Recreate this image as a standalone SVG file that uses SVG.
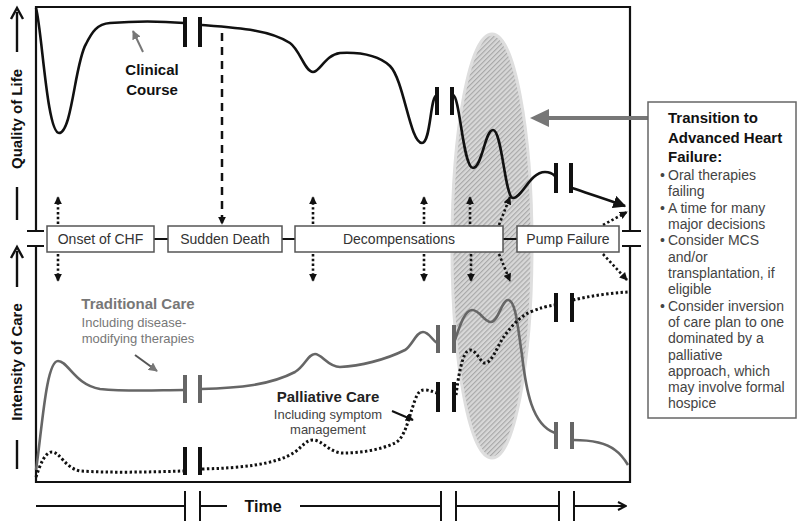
<svg xmlns="http://www.w3.org/2000/svg" width="800" height="527" viewBox="0 0 800 527">
<defs>
<style>
text{font-family:"Liberation Sans",Arial,sans-serif}
.frame{stroke:#111;stroke-width:2.2;fill:none}
.brk{stroke:#111;stroke-width:4;fill:none}
.gbrk{stroke:#666;stroke-width:4;fill:none}
.clin{stroke:#111;stroke-width:2.6;fill:none}
.trad{stroke:#666;stroke-width:2.6;fill:none}
.pall{stroke:#111;stroke-width:3;fill:none;stroke-dasharray:2.4 2.4}
.dot{stroke:#111;stroke-width:2.6;fill:none;stroke-dasharray:2.4 2.4;marker-end:url(#tri)}
.box{fill:#fff;stroke:#555;stroke-width:1.5}
.bt{font-size:14px;fill:#333;text-anchor:middle}
.ax{font-size:15px;font-weight:bold;fill:#111;text-anchor:middle}
.bul{font-size:14px;fill:#444}
.time{stroke:#111;stroke-width:2;fill:none}
</style>
<marker id="tri" viewBox="0 0 10 10" refX="9" refY="5" markerWidth="8" markerHeight="8" markerUnits="userSpaceOnUse" orient="auto"><path d="M0,0 L10,5 L0,10 z" fill="#111"/></marker>
<marker id="triBig" viewBox="0 0 10 10" refX="9" refY="5" markerWidth="13" markerHeight="13" markerUnits="userSpaceOnUse" orient="auto"><path d="M0,0 L10,5 L0,10 z" fill="#111"/></marker>
<marker id="triGray" viewBox="0 0 10 10" refX="9" refY="5" markerWidth="9" markerHeight="9" markerUnits="userSpaceOnUse" orient="auto"><path d="M0,0 L10,5 L0,10 z" fill="#777"/></marker>
<marker id="chev" viewBox="0 0 10 10" refX="9" refY="5" markerWidth="10" markerHeight="10" markerUnits="userSpaceOnUse" orient="auto"><path d="M1,1 L9,5 L1,9" fill="none" stroke="#111" stroke-width="2"/></marker>
<pattern id="hatch" width="3.5" height="3.5" patternUnits="userSpaceOnUse" patternTransform="rotate(45)"><rect width="3.5" height="3.5" fill="#d8d8d8"/><line x1="0.6" y1="0" x2="0.6" y2="3.5" stroke="#a6a6a6" stroke-width="1.1"/></pattern>
</defs>
<rect width="800" height="527" fill="#fff"/>

<g id="frame">
<path class="frame" d="M36,231 V7 H630 V231 M36,246 V482 H630 V246"/>
<path class="frame" d="M27,231 H44 M27,246 H44 M622,231 H641 M622,246 H641"/>
</g>

<g id="transition-zone">
<ellipse cx="492" cy="246" rx="40" ry="212" fill="url(#hatch)" stroke="#dedede" stroke-width="3"/>
</g>

<g id="axis-labels">
<path d="M17,52 V12" stroke="#111" stroke-width="2.4" fill="none"/>
<path d="M11,19 L17,8 L23,19" stroke="#111" stroke-width="2.4" fill="none"/>
<text class="ax" transform="translate(22,119) rotate(-90)">Quality of Life</text>
<path d="M17,187 V220" stroke="#111" stroke-width="2.4"/>
<path d="M17,287 V251" stroke="#111" stroke-width="2.4" fill="none"/>
<path d="M11,258 L17,247 L23,258" stroke="#111" stroke-width="2.4" fill="none"/>
<text class="ax" transform="translate(22,362) rotate(-90)">Intensity of Care</text>
<path d="M17,440 V469" stroke="#111" stroke-width="2.4"/>
</g>

<g id="curves">
<path id="clinical-1" class="clin" d="M36,8 C42,30 47,133 59,133 C72,133 75,62 86,44 C92,32 97,24 110,23 C135,21 160,21 184,23"/>
<path id="clinical-2" class="clin" d="M202,25 C240,28 270,30 290,43 C300,50 305,72 313,72 C320,72 325,55 340,53 C360,52 378,55 390,66 C404,80 410,143 422,143 C431,143 430,95 437,95"/>
<path id="clinical-3" class="clin" d="M453,95 C460,96 463,168 473,168 C482,168 485,130 493,130 C502,130 505,198 513,198 C522,198 530,172 545,172 C550,172 553,174 555,176"/>
<path id="clinical-4" class="clin" d="M572,188 C590,194 606,199 625,206" marker-end="url(#triBig)"/>
<path class="brk" d="M185,17 V47 M200,17 V47 M437,87 V115 M452,87 V115 M556,163 V193 M571,163 V193"/>

<path id="traditional-1" class="trad" d="M36,470 C42,430 46,361 58,361 C68,361 75,385 100,389 C130,392 160,390 184,390"/>
<path id="traditional-2" class="trad" d="M201,389 C240,388 270,385 295,372 C305,366 308,354 315,354 C322,354 328,367 340,367 C360,366 385,360 405,350 C412,346 416,332 423,332 C429,332 432,340 437,343"/>
<path id="traditional-3" class="trad" d="M455,340 C460,325 465,310 472,310 C480,310 484,322 491,322 C498,322 502,300 508,300 C516,300 518,330 522,355 C526,390 532,425 555,433"/>
<path id="traditional-4" class="trad" d="M573,440 C590,440 605,442 615,450 C622,455 625,460 628,465"/>
<path class="gbrk" d="M185,375 V403 M200,375 V403 M438,325 V353 M454,325 V353 M556,422 V449 M572,422 V449"/>

<path id="palliative-1" class="pall" d="M36,477 C40,465 45,452 52,452 C60,452 65,468 80,471 C110,473 150,472 184,471"/>
<path id="palliative-2" class="pall" d="M202,469 C240,468 275,465 295,452 C303,446 306,440 313,440 C322,440 330,453 343,453 C360,453 380,450 395,443 C405,438 408,420 415,400 C418,392 420,390 425,390 C430,390 433,392 437,393"/>
<path id="palliative-3" class="pall" d="M456,395 C458,380 462,350 470,350 C477,350 480,363 485,363 C492,363 498,345 503,338 C510,328 518,318 530,312 C540,308 548,306 554,305"/>
<path id="palliative-4" class="pall" d="M573,300 C590,296 610,293 628,292"/>
<path class="brk" d="M185,447 V475 M200,447 V475 M438,382 V412 M454,382 V412 M556,293 V322 M572,293 V322"/>
</g>

<g id="connectors">
<path d="M154,239 H168 M282,239 H295 M503,239 H517" stroke="#111" stroke-width="2"/>
<path d="M222,33 V224" stroke="#111" stroke-width="2.5" stroke-dasharray="8 6" fill="none" marker-end="url(#tri)"/>
<path class="dot" d="M58,224 V197"/>
<path class="dot" d="M313,224 V197"/>
<path class="dot" d="M424,224 V197"/>
<path class="dot" d="M470,224 V197"/>
<path class="dot" d="M499,225 L510,197"/>
<path class="dot" d="M603,225 L627,212"/>
<path class="dot" d="M58,254 V281"/>
<path class="dot" d="M313,254 V281"/>
<path class="dot" d="M424,254 V281"/>
<path class="dot" d="M471,254 V281"/>
<path class="dot" d="M499,254 L510,281"/>
<path class="dot" d="M603,254 L627,280"/>
<path d="M143,52 L133,31" stroke="#777" stroke-width="2" fill="none" marker-end="url(#triGray)"/>
<path d="M135,355 L157,371" stroke="#555" stroke-width="2" fill="none" marker-end="url(#triGray)"/>
<path d="M392,411 L413,420" stroke="#111" stroke-width="2" fill="none" marker-end="url(#tri)"/>
<path d="M648,118 H546" stroke="#777" stroke-width="4" fill="none"/>
<path d="M530,118 L549,109 L549,127 z" fill="#777"/>
</g>

<g id="onset">
<rect class="box" x="47" y="226" width="107" height="26"/>
<text class="bt" x="100.5" y="244">Onset of CHF</text>
</g>
<g id="sudden-death">
<rect class="box" x="168" y="226" width="114" height="26"/>
<text class="bt" x="225" y="244">Sudden Death</text>
</g>
<g id="decompensations">
<rect class="box" x="295" y="226" width="208" height="26"/>
<text class="bt" x="399" y="244">Decompensations</text>
</g>
<g id="pump-failure">
<rect class="box" x="517" y="226" width="102" height="26"/>
<text class="bt" x="568" y="244">Pump Failure</text>
</g>

<g id="labels">
<text x="152" y="75" font-size="15" font-weight="bold" fill="#111" text-anchor="middle">Clinical</text>
<text x="152" y="95" font-size="15" font-weight="bold" fill="#111" text-anchor="middle">Course</text>
<text x="138" y="309" font-size="15" font-weight="bold" fill="#777" text-anchor="middle">Traditional Care</text>
<text x="134" y="327" font-size="13" fill="#777" text-anchor="middle">Including disease-</text>
<text x="138" y="343" font-size="13" fill="#777" text-anchor="middle">modifying therapies</text>
<text x="328" y="402" font-size="15" font-weight="bold" fill="#222" text-anchor="middle">Palliative Care</text>
<text x="328" y="419" font-size="13" fill="#444" text-anchor="middle">Including symptom</text>
<text x="328" y="434" font-size="13" fill="#444" text-anchor="middle">management</text>
</g>

<g id="transition-box">
<rect x="648" y="102" width="148" height="316" fill="#fff" stroke="#666" stroke-width="1.5"/>
<text x="668" y="123" font-size="15" font-weight="bold" fill="#111">Transition to</text>
<text x="668" y="143" font-size="15" font-weight="bold" fill="#111">Advanced Heart</text>
<text x="668" y="162" font-size="15" font-weight="bold" fill="#111">Failure:</text>
<text class="bul" x="660" y="180">•</text><text class="bul" x="668" y="180">Oral therapies</text>
<text class="bul" x="668" y="196">failing</text>
<text class="bul" x="660" y="213">•</text><text class="bul" x="668" y="213">A time for many</text>
<text class="bul" x="668" y="229">major decisions</text>
<text class="bul" x="660" y="245">•</text><text class="bul" x="668" y="245">Consider MCS</text>
<text class="bul" x="668" y="262">and/or</text>
<text class="bul" x="668" y="278">transplantation, if</text>
<text class="bul" x="668" y="294">eligible</text>
<text class="bul" x="660" y="311">•</text><text class="bul" x="668" y="311">Consider inversion</text>
<text class="bul" x="668" y="327">of care plan to one</text>
<text class="bul" x="668" y="343">dominated by a</text>
<text class="bul" x="668" y="360">palliative</text>
<text class="bul" x="668" y="376">approach, which</text>
<text class="bul" x="668" y="392">may involve formal</text>
<text class="bul" x="668" y="408">hospice</text>
</g>

<g id="time-axis">
<path class="time" d="M36,506 H185 M200,506 H227 M300,506 H441 M456,506 H559"/>
<path class="time" d="M574,506 H626" marker-end="url(#chev)"/>
<path class="time" d="M185,491 V521 M200,491 V521 M441,491 V521 M456,491 V521 M559,491 V521 M574,491 V521"/>
<text x="263" y="512" font-size="16" font-weight="bold" fill="#111" text-anchor="middle">Time</text>
</g>
</svg>
